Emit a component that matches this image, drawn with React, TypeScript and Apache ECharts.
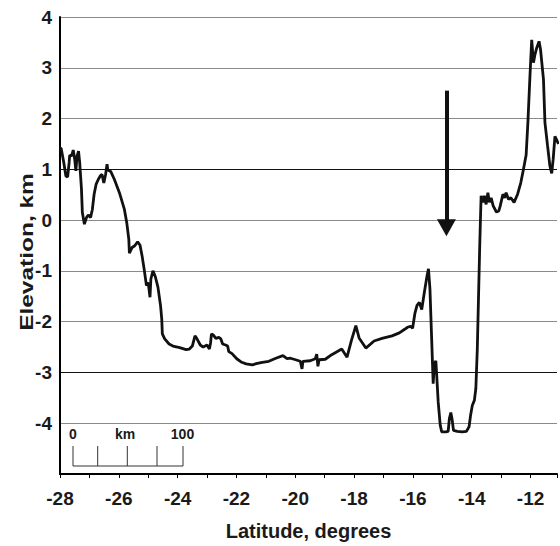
import React, { useEffect, useRef } from 'react';
import * as echarts from 'echarts';

// Profile: latitude (degrees) vs elevation (km)
const latitude = [
  -28.0, -27.96, -27.87, -27.8, -27.74, -27.69, -27.67, -27.61, -27.55, -27.5,
  -27.46, -27.42, -27.37, -27.33, -27.27, -27.24, -27.17, -27.1, -27.04, -26.96,
  -26.9, -26.84, -26.77, -26.7, -26.63, -26.57, -26.51, -26.45, -26.4, -26.37,
  -26.32, -26.26, -26.15, -25.98, -25.81, -25.73, -25.66, -25.64, -25.55, -25.47,
  -25.36, -25.28, -25.21, -25.14, -25.06, -25.0, -24.94, -24.91, -24.84, -24.76,
  -24.67, -24.58, -24.54, -24.52, -24.44, -24.29, -24.16, -23.93, -23.71, -23.6,
  -23.5, -23.41, -23.35, -23.23, -23.13, -23.0, -22.92, -22.88, -22.85, -22.79,
  -22.7, -22.6, -22.53, -22.47, -22.37, -22.3, -22.26, -22.15, -21.99, -21.82,
  -21.67, -21.46, -21.29, -21.12, -20.9, -20.66, -20.42, -20.28, -20.16, -19.99,
  -19.83, -19.77, -19.74, -19.49, -19.32, -19.27, -19.23, -19.19, -18.98, -18.76,
  -18.42, -18.24, -18.09, -17.94, -17.83, -17.6, -17.32, -17.05, -16.71, -16.46,
  -16.28, -16.18, -16.08, -16.01, -15.93, -15.86, -15.78, -15.7, -15.61, -15.52,
  -15.47, -15.42, -15.37, -15.31, -15.27, -15.22, -15.19, -15.14, -15.07, -15.02,
  -14.88, -14.8, -14.76, -14.71, -14.67, -14.62, -14.49, -14.32, -14.18, -14.09,
  -14.04, -13.98, -13.91, -13.86, -13.81, -13.77, -13.73, -13.7, -13.68, -13.62,
  -13.57, -13.51, -13.45, -13.4, -13.34, -13.27, -13.16, -13.08, -13.03, -12.94,
  -12.88, -12.83, -12.75, -12.67, -12.56, -12.44, -12.33, -12.24, -12.15, -12.09,
  -12.02, -11.96, -11.9, -11.85, -11.79, -11.71, -11.66, -11.56, -11.51, -11.42,
  -11.34, -11.28, -11.23, -11.17, -11.12, -11.05,
];

const elevation = [
  1.42, 1.41, 1.13, 0.87, 0.85, 1.13, 1.28, 1.26, 1.38, 1.2,
  0.97, 1.26, 1.36, 1.13, 0.61, 0.15, -0.08, 0.05, 0.1, 0.05,
  0.21, 0.51, 0.71, 0.8, 0.87, 0.9, 0.73, 0.9, 1.1, 0.97,
  0.99, 0.94, 0.8, 0.54, 0.21, -0.05, -0.38, -0.65, -0.54, -0.51,
  -0.43, -0.49, -0.7, -0.96, -1.29, -1.23, -1.52, -1.16, -1.0, -1.11,
  -1.32, -1.69, -1.95, -2.24, -2.34, -2.44, -2.48, -2.51, -2.55, -2.54,
  -2.48, -2.28, -2.33, -2.46, -2.5, -2.46, -2.54, -2.42, -2.24, -2.26,
  -2.33, -2.31, -2.34, -2.44, -2.46, -2.48, -2.59, -2.63, -2.73, -2.8,
  -2.83, -2.85, -2.82, -2.8, -2.78, -2.72, -2.67, -2.73, -2.72, -2.75,
  -2.78, -2.93, -2.78, -2.77, -2.73, -2.64, -2.88, -2.75, -2.74, -2.65,
  -2.54, -2.7, -2.37, -2.08, -2.32, -2.52, -2.38, -2.33, -2.28, -2.22,
  -2.15, -2.11, -2.09, -2.13, -1.83, -1.68, -1.62, -1.76, -1.42, -1.1,
  -0.96, -1.36, -2.21, -3.22, -2.83, -2.77, -3.06, -3.58, -4.04, -4.17,
  -4.17, -4.16, -3.91, -3.79, -3.91, -4.14, -4.16, -4.17, -4.16, -4.07,
  -3.85, -3.65, -3.55, -3.32, -2.54, -1.55, -0.57, 0.08, 0.48, 0.35,
  0.48, 0.31, 0.54, 0.35, 0.44, 0.28, 0.16, 0.18, 0.28, 0.51,
  0.44, 0.54, 0.41, 0.44, 0.35, 0.51, 0.74, 1.0, 1.28, 1.92,
  2.83, 3.55, 3.1, 3.26, 3.39, 3.52, 3.36, 2.77, 1.92, 1.46,
  1.06, 0.92, 1.2, 1.65, 1.59, 1.5,
];

// Axis extents / ticks
const latMin = -28;
const latMax = -11.1;
const elevMin = -5;
const elevMax = 4;
const darkGridValues = [1, -3];

// Arrow annotation (data coordinates: shaft top and centre of the arrow head)
const arrowLat = -14.86;
const arrowFrom = 2.55;
const arrowTo = -0.15;

// Scale bar labels
const scaleBarLabels = ['0', 'km', '100'];

const FONT = '"Liberation Sans", Arial, Helvetica, sans-serif';
const INK = '#1a1a1a';

export default function App() {
  const ref = useRef<HTMLDivElement>(null);

  useEffect(() => {
    if (!ref.current) return;
    const chart = echarts.init(ref.current, null, { renderer: 'svg' });
    const data = latitude.map((x, i) => [x, elevation[i]]);

    const gridColors: string[] = [];
    for (let v = elevMin; v <= elevMax; v++) {
      gridColors.push(darkGridValues.includes(v) ? '#111' : '#8a8a8a');
    }

    const barY = 466;
    const barTop = 446;
    const barTicks = [73, 97.7, 127.3, 157, 183];
    const scaleGraphics: any[] = [
      {
        type: 'line',
        shape: { x1: barTicks[0], y1: barY, x2: barTicks[barTicks.length - 1], y2: barY },
        style: { stroke: '#333', lineWidth: 1 },
        silent: true,
      },
      ...barTicks.map((x) => ({
        type: 'line',
        shape: { x1: x, y1: barTop, x2: x, y2: barY },
        style: { stroke: '#333', lineWidth: 1 },
        silent: true,
      })),
      ...[73, 125, 182.5].map((x, i) => ({
        type: 'text',
        x,
        y: 434,
        style: {
          text: scaleBarLabels[i],
          fontSize: 14,
          fontWeight: 'bold',
          fontFamily: FONT,
          fill: INK,
          align: 'center',
          verticalAlign: 'middle',
        },
        silent: true,
      })),
      {
        type: 'text',
        x: 27,
        y: 252,
        rotation: Math.PI / 2,
        scaleX: 1.36,
        style: {
          text: 'Elevation, km',
          fontSize: 18,
          fontWeight: 'bold',
          fontFamily: FONT,
          fill: INK,
          align: 'center',
          verticalAlign: 'middle',
        },
        silent: true,
      },
    ];

    chart.setOption({
      animation: false,
      backgroundColor: '#fff',
      grid: { left: 60, right: 0, top: 17, bottom: 71, containLabel: false },
      xAxis: {
        type: 'value',
        min: latMin,
        max: latMax,
        interval: 1,
        name: 'Latitude, degrees',
        nameLocation: 'middle',
        nameGap: 47,
        nameTextStyle: { fontSize: 20, fontWeight: 'bold', fontFamily: FONT, color: INK },
        axisLine: { show: true, onZero: false, lineStyle: { color: '#000', width: 2 } },
        axisTick: { show: true, length: 4, lineStyle: { color: '#000', width: 1 } },
        axisLabel: {
          margin: 15,
          fontSize: 19,
          fontWeight: 'bold',
          fontFamily: FONT,
          color: INK,
          formatter: (v: number) => (Number.isInteger(v) && v % 2 === 0 ? String(v) : ''),
        },
        splitLine: { show: false },
      },
      yAxis: {
        type: 'value',
        min: elevMin,
        max: elevMax,
        interval: 1,
        axisLine: { show: true, onZero: false, lineStyle: { color: '#000', width: 2 } },
        axisTick: { show: false },
        axisLabel: {
          margin: 8,
          fontSize: 19,
          fontWeight: 'bold',
          fontFamily: FONT,
          color: INK,
          formatter: (v: number) => (v === elevMin ? '' : String(v)),
        },
        splitLine: { show: true, lineStyle: { color: gridColors, width: 1 } },
      },
      series: [
        {
          type: 'line',
          data,
          showSymbol: false,
          symbol: 'none',
          clip: true,
          lineStyle: { color: '#111', width: 2.8 },
          silent: true,
          z: 3,
          markLine: {
            silent: true,
            symbol: ['none', 'triangle'],
            symbolSize: [19, 17],
            label: { show: false },
            lineStyle: { color: '#111', width: 4, type: 'solid' },
            emphasis: { disabled: true },
            data: [[{ coord: [arrowLat, arrowFrom] }, { coord: [arrowLat, arrowTo] }]],
          },
        },
      ],
      graphic: scaleGraphics,
    });

    return () => chart.dispose();
  }, []);

  return (
    <div
      ref={ref}
      style={{ position: 'fixed', left: 0, top: 0, width: 560, height: 546, background: '#fff' }}
    />
  );
}
